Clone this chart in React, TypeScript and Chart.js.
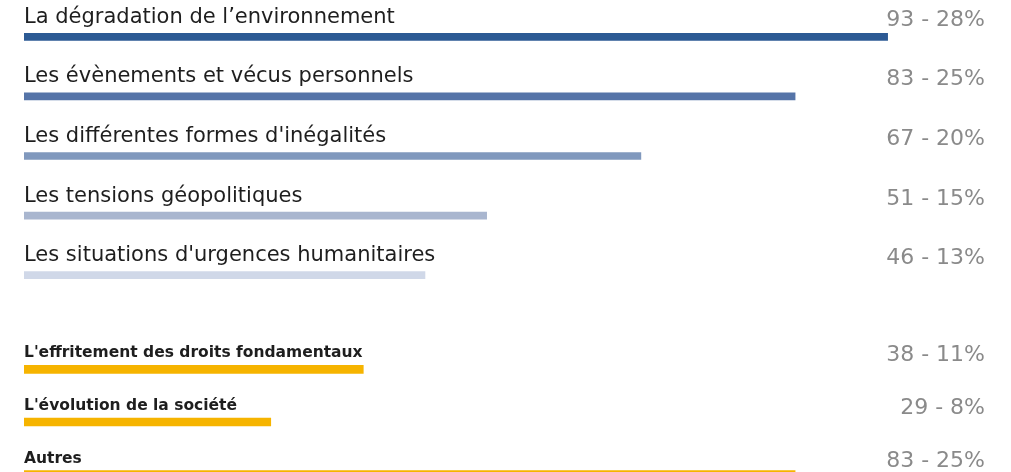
import React, { useEffect, useRef } from "react";
import { Chart, registerables } from "chart.js";

Chart.register(...registerables);

const blueCategories = [
  "La dégradation de l’environnement",
  "Les évènements et vécus personnels",
  "Les différentes formes d'inégalités",
  "Les tensions géopolitiques",
  "Les situations d'urgences humanitaires",
];
const blueCounts = [93, 83, 67, 51, 46];
const bluePercents = [28, 25, 20, 15, 13];
const blueColors = ["#2c5a94", "#5574a8", "#8098bd", "#a9b6cf", "#d0d8e8"];

const yellowCategories = [
  "L'effritement des droits fondamentaux",
  "L'évolution de la société",
  "Autres",
];
const yellowCounts = [38, 29, 83];
const yellowPercents = [11, 8, 25];
const yellowColors = ["#f6b400", "#f6b400", "#f6b400"];

const X_MAX = 32;

type GroupProps = {
  categories: string[];
  counts: number[];
  percents: number[];
  colors: string[];
  top: number;
  height: number;
  padTop: number;
  thickness: number;
  catFont: string;
  catOffset: number;
  valOffset: number;
};

function BarGroup(p: GroupProps) {
  const ref = useRef<HTMLCanvasElement | null>(null);
  useEffect(() => {
    if (!ref.current) return;
    const valueLabels = p.counts.map((c, i) => `${c} - ${p.percents[i]}%`);
    const labelPlugin = {
      id: "rowLabels",
      afterDatasetsDraw(chart: any) {
        const ctx = chart.ctx;
        const meta = chart.getDatasetMeta(0);
        const area = chart.chartArea;
        ctx.save();
        meta.data.forEach((bar: any, i: number) => {
          ctx.textBaseline = "alphabetic";
          ctx.textAlign = "left";
          ctx.fillStyle = "#1e1e1e";
          ctx.font = p.catFont;
          ctx.fillText(p.categories[i], area.left, bar.y - p.catOffset);
          ctx.textAlign = "right";
          ctx.fillStyle = "#8a8a8a";
          ctx.font = "22px 'DejaVu Sans'";
          ctx.fillText(valueLabels[i], 985, bar.y - p.valOffset);
        });
        ctx.restore();
      },
    };
    const chart = new Chart(ref.current, {
      type: "bar",
      data: {
        labels: p.categories,
        datasets: [
          {
            data: p.percents,
            backgroundColor: p.colors,
            borderWidth: 0,
            barThickness: p.thickness,
          },
        ],
      },
      options: {
        indexAxis: "y",
        responsive: false,
        animation: false,
        layout: { padding: { top: p.padTop, left: 24, right: 0, bottom: 0 } },
        plugins: { legend: { display: false }, tooltip: { enabled: false } },
        scales: {
          x: { display: false, min: 0, max: X_MAX },
          y: { display: false },
        },
      },
      plugins: [labelPlugin],
    });
    return () => chart.destroy();
  }, []);
  return (
    <canvas
      ref={ref}
      width={1011}
      height={p.height}
      style={{ position: "absolute", left: 0, top: p.top, width: 1011, height: p.height }}
    />
  );
}

export default function App() {
  return (
    <div
      style={{
        position: "fixed",
        left: 0,
        top: 0,
        width: 1011,
        height: 472,
        overflow: "hidden",
        background: "#ffffff",
      }}
    >
      <BarGroup
        categories={blueCategories}
        counts={blueCounts}
        percents={bluePercents}
        colors={blueColors}
        top={0}
        height={305}
        padTop={7}
        thickness={7}
        catFont="21px 'DejaVu Sans'"
        catOffset={14}
        valOffset={11}
      />
      <BarGroup
        categories={yellowCategories}
        counts={yellowCounts}
        percents={yellowPercents}
        colors={yellowColors}
        top={310}
        height={191}
        padTop={33}
        thickness={8}
        catFont="bold 15.5px 'DejaVu Sans'"
        catOffset={12}
        valOffset={8}
      />
    </div>
  );
}
